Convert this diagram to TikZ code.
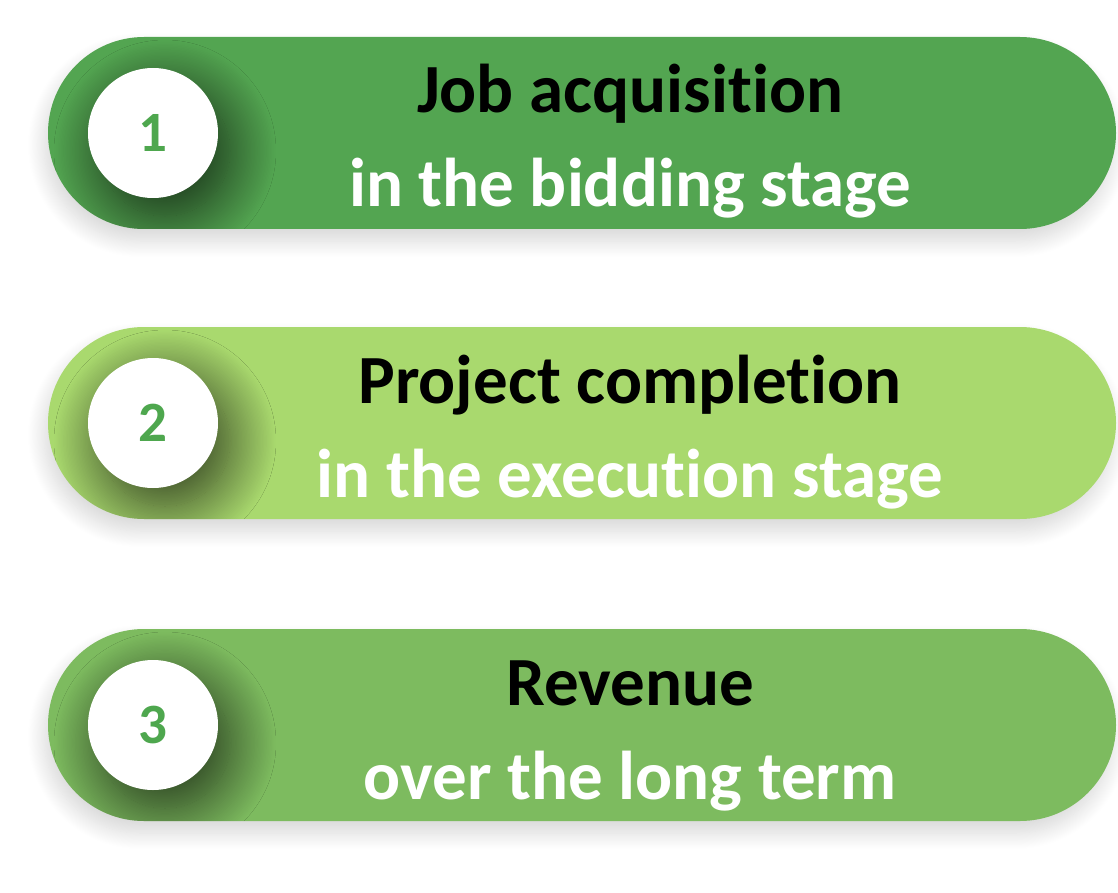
\documentclass[tikz,border=0pt]{standalone}
\usepackage{fontspec}
\setmainfont{Carlito}[Ligatures=NoCommon]
\usetikzlibrary{shapes.misc,shadows.blur}
\definecolor{gA}{HTML}{53A551}
\definecolor{gB}{HTML}{A9D96E}
\definecolor{gC}{HTML}{7DBB5F}
\definecolor{gnum}{HTML}{4EA74E}
\begin{document}
\begin{tikzpicture}[x=1pt,y=-1pt,
pill/.style={rounded rectangle,minimum width=1068pt,minimum height=192pt,inner sep=0pt,
  blur shadow={shadow xshift=-4pt,shadow yshift=-12pt,shadow blur radius=16pt,shadow opacity=16,shadow blur steps=20}},
badge/.style={circle,fill=white,minimum size=130pt,inner sep=0pt,text=gnum,
  font=\bfseries\fontsize{57}{60}\selectfont},
glow/.style={blur shadow={shadow xshift=12pt,shadow yshift=-18pt,shadow blur radius=46pt,shadow opacity=70,shadow blur steps=36}},
title/.style={anchor=base,font=\bfseries\fontsize{69}{80}\selectfont},
sub/.style={title,text=white}]
\useasboundingbox (0,0) rectangle (1118,893);
\foreach \i/\yc/\col/\ta/\tb in {1/133/gA/Job acquisition/in the bidding stage,
  2/423/gB/Project completion/in the execution stage,
  3/725/gC/Revenue/over the long term}{
  \node[pill,fill=\col] (pill\i) at (582,\yc) {};
  % shadow of the badge, kept inside the pill
  \begin{scope}
    \clip[rounded corners=96pt] (48,\yc-96) rectangle (1116,\yc+96);
    \path[glow] (153,\yc) circle (65pt);
  \end{scope}
  \node[badge] (num\i) at (153,\yc) {\i};
  \node[title] (top\i) at (630,\yc-20) {\ta};
  \node[sub] (bot\i) at (630,\yc+74) {\tb};
}
\end{tikzpicture}
\end{document}
